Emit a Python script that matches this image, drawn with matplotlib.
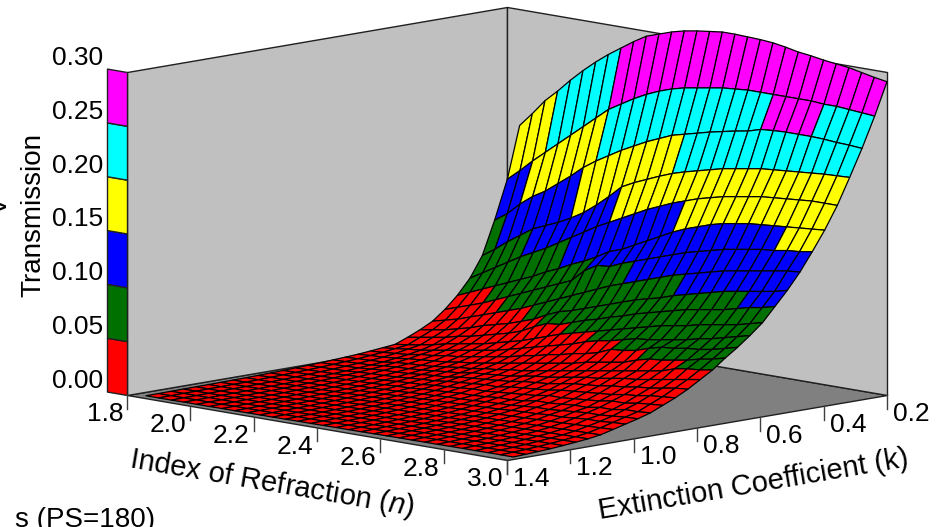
import numpy as np
import matplotlib
matplotlib.use('Agg')
from matplotlib import pyplot as plt
from matplotlib.colors import to_rgba
from mpl_toolkits.mplot3d import proj3d
from mpl_toolkits.mplot3d.art3d import Poly3DCollection

plt.rcParams['font.family'] = ['Liberation Sans']
plt.rcParams['mathtext.fontset'] = 'custom'
plt.rcParams['mathtext.it'] = 'Liberation Sans:italic'
plt.rcParams['mathtext.rm'] = 'Liberation Sans'

# grid of the surface
n_values = [1.84, 1.88, 1.92, 1.96, 2.00, 2.04, 2.08, 2.12, 2.16, 2.20,
            2.24, 2.28, 2.32, 2.36, 2.40, 2.44, 2.48, 2.52, 2.56, 2.60,
            2.64, 2.68, 2.72, 2.76, 2.80, 2.84, 2.88, 2.92, 2.96, 3.00]
k_values = [0.200, 0.239, 0.279, 0.318, 0.357, 0.397, 0.436, 0.475, 0.515, 0.554,
            0.593, 0.633, 0.672, 0.711, 0.751, 0.790, 0.829, 0.869, 0.908, 0.947,
            0.987, 1.026, 1.065, 1.105, 1.144, 1.183, 1.223, 1.262, 1.301, 1.341, 1.380]

# transmission, one row per k, one column per n
transmission = [
    [.192, .205, .219, .230, .242, .253, .263, .272, .280, .288, .295, .299, .303, .306, .308, .3095, .311, .311, .3105, .310, .309, .307, .3045, .303, .301, .2995, .298, .2955, .293, .291],
    [.144, .154, .165, .175, .185, .195, .205, .215, .225, .232, .239, .245, .250, .254, .257, .259, .261, .263, .264, .265, .265, .265, .265, .265, .265, .264, .264, .263, .262, .261],
    [.108, .116, .127, .136, .143, .152, .161, .171, .179, .186, .193, .199, .205, .210, .215, .218, .221, .224, .2265, .229, .231, .2345, .2355, .236, .236, .236, .2355, .2345, .234, .233],
    [.077, .085, .094, .102, .110, .115, .120, .126, .133, .142, .152, .163, .169, .174, .179, .1835, .187, .190, .193, .196, .198, .200, .202, .203, .204, .205, .206, .207, .2075, .208],
    [.058, .065, .072, .079, .086, .092, .098, .105, .112, .119, .126, .132, .138, .144, .150, .155, .160, .164, .168, .171, .174, .176, .178, .180, .181, .182, .183, .184, .184, .184],
    [.044, .049, .054, .059, .064, .069, .074, .080, .085, .091, .096, .102, .109, .113, .119, .125, .131, .137, .142, .146, .150, .153, .155, .157, .158, .159, .160, .161, .162, .163],
    [.033, .037, .041, .045, .050, .055, .060, .065, .070, .075, .080, .091, .098, .099, .104, .108, .112, .116, .120, .124, .127, .130, .133, .135, .137, .139, .140, .142, .143, .145],
    [.024, .027, .030, .034, .038, .042, .046, .050, .055, .060, .065, .070, .075, .080, .085, .089, .093, .097, .101, .105, .108, .111, .114, .117, .119, .121, .123, .125, .127, .128],
    [.018, .020, .022, .025, .028, .032, .035, .038, .042, .046, .052, .057, .060, .064, .068, .072, .076, .080, .083, .086, .090, .093, .096, .099, .102, .104, .106, .108, .110, .113],
    [.013, .015, .017, .019, .022, .024, .027, .030, .033, .037, .043, .048, .049, .053, .057, .060, .064, .067, .071, .074, .077, .080, .083, .085, .087, .089, .092, .095, .097, .100],
    [.0085, .010, .012, .014, .017, .019, .021, .023, .026, .029, .032, .036, .040, .044, .047, .050, .053, .056, .059, .062, .065, .068, .070, .072, .075, .077, .079, .081, .084, .087],
    [.0073, .0085, .010, .011, .013, .015, .017, .019, .021, .023, .026, .029, .032, .035, .038, .041, .045, .048, .050, .053, .056, .057, .059, .061, .063, .066, .068, .071, .074, .077],
    [.0062, .007, .008, .009, .011, .012, .014, .015, .017, .019, .021, .023, .026, .028, .031, .033, .036, .038, .041, .046, .047, .049, .053, .056, .057, .059, .060, .062, .065, .068],
    [.0052, .006, .0065, .0075, .009, .010, .011, .012, .014, .015, .017, .019, .021, .023, .025, .027, .029, .031, .034, .036, .038, .040, .044, .047, .048, .050, .052, .055, .057, .060],
    [.0045, .005, .0055, .006, .0075, .0085, .009, .010, .0115, .013, .014, .016, .017, .019, .020, .022, .024, .026, .028, .030, .032, .034, .036, .038, .040, .042, .046, .048, .049, .051],
    [.0039, .0043, .0047, .0052, .0064, .0073, .0078, .0086, .0099, .011, .012, .014, .015, .016, .017, .019, .021, .022, .024, .026, .028, .029, .031, .033, .034, .036, .038, .040, .042, .044],
    [.0033, .0037, .004, .0044, .0054, .0062, .0066, .0073, .0084, .0094, .010, .012, .013, .014, .015, .016, .018, .019, .020, .022, .024, .025, .026, .028, .029, .031, .032, .034, .036, .037],
    [.0028, .0031, .0034, .0037, .0045, .0052, .0055, .0061, .0071, .0079, .0086, .010, .011, .012, .013, .013, .015, .016, .017, .018, .020, .021, .022, .023, .024, .026, .027, .029, .030, .031],
    [.0024, .0026, .0029, .0031, .0038, .0043, .0046, .0051, .0059, .0066, .0071, .0083, .0091, .010, .011, .011, .012, .013, .014, .015, .017, .017, .018, .019, .020, .022, .022, .024, .025, .026],
    [.002, .0022, .0024, .0026, .0031, .0035, .0038, .0042, .0048, .0054, .0058, .0068, .0075, .0082, .009, .009, .0098, .011, .011, .012, .014, .014, .015, .016, .016, .018, .018, .020, .020, .021],
    [.0017, .0019, .002, .0022, .0026, .0029, .0032, .0035, .004, .0045, .0048, .0056, .0062, .0068, .0075, .0078, .0082, .0091, .0095, .010, .011, .012, .012, .013, .014, .015, .015, .016, .017, .0175],
    [.0014, .0016, .0017, .0018, .0022, .0024, .0027, .0029, .0033, .0037, .004, .0046, .0051, .0056, .0062, .0065, .0068, .0075, .0079, .0083, .0091, .0097, .010, .011, .011, .012, .013, .013, .014, .0145],
    [.0012, .0013, .0014, .0015, .0018, .002, .0022, .0024, .0027, .003, .0033, .0038, .0042, .0046, .0051, .0054, .0056, .0062, .0065, .0068, .0075, .0078, .0082, .0086, .009, .0095, .010, .0105, .011, .0115],
    [.001, .0011, .0012, .0013, .0015, .0016, .0018, .002, .0022, .0025, .0027, .0031, .0034, .0038, .0042, .0044, .0046, .005, .0053, .0056, .0061, .0063, .0066, .0069, .0072, .0075, .0078, .0081, .0083, .0085],
    [.0009, .001, .001, .0011, .0012, .0013, .0015, .0016, .0018, .002, .0022, .0025, .0028, .0031, .0034, .0036, .0038, .0041, .0043, .0046, .005, .0052, .0054, .0056, .0058, .006, .0062, .0064, .0066, .0068],
    [.0008, .0008, .0009, .0009, .001, .0011, .0012, .0013, .0015, .0016, .0018, .002, .0023, .0025, .0028, .0029, .0031, .0033, .0035, .0038, .0041, .0042, .0044, .0046, .0047, .0049, .0051, .0053, .0055, .0056],
    [.0007, .0007, .0008, .0008, .0008, .0009, .001, .0011, .0012, .0013, .0015, .0016, .0019, .002, .0023, .0024, .0025, .0027, .0029, .0031, .0033, .0034, .0036, .0037, .0038, .004, .0041, .0043, .0044, .0045],
    [.0006, .0006, .0006, .0007, .0007, .0008, .0008, .0009, .001, .0011, .0012, .0013, .0015, .0016, .0018, .0019, .002, .0022, .0023, .0025, .0027, .0028, .0029, .003, .0031, .0032, .0033, .0034, .0035, .0036],
    [.0005, .0005, .0005, .0006, .0006, .0006, .0007, .0007, .0008, .0009, .001, .0011, .0012, .0013, .0014, .0015, .0016, .0018, .0019, .002, .0022, .0023, .0024, .0024, .0025, .0026, .0027, .0027, .0028, .0029],
    [.0004, .0004, .0004, .0005, .0005, .0005, .0006, .0006, .0007, .0007, .0008, .0009, .001, .001, .0011, .0012, .0013, .0014, .0015, .0016, .0018, .0018, .0019, .0019, .002, .0021, .0021, .0022, .0022, .0023],
    [.0003, .0003, .0003, .0004, .0004, .0004, .0005, .0005, .0006, .0006, .0006, .0007, .0008, .0008, .0009, .001, .001, .0011, .0012, .0013, .0014, .0014, .0015, .0015, .0016, .0017, .0017, .0018, .0018, .0018],
]

levels = [0.00, 0.05, 0.10, 0.15, 0.20, 0.25, 0.30]
level_colors = ['#ff0000', '#007000', '#0000ff', '#ffff00', '#00ffff', '#ff00ff']
level_labels = ['0.00', '0.05', '0.10', '0.15', '0.20', '0.25', '0.30']
n_ticks = [1.8, 2.0, 2.2, 2.4, 2.6, 2.8, 3.0]
k_ticks = [1.4, 1.2, 1.0, 0.8, 0.6, 0.4, 0.2]

W, H = 947, 527
fig = plt.figure(figsize=(W / 100, H / 100), dpi=100)
ax = fig.add_subplot(projection='3d', computed_zorder=False)
ax.set_proj_type('ortho')
ax.view_init(elev=9.85, azim=-45)
ax.set_xlim(1.8, 3.0)
ax.set_ylim(1.4, 0.2)
ax.set_zlim(0, 0.3)
ax.set_box_aspect((1, 1, 0.61), zoom=0.7)
ax.set_axis_off()


def to_px(x, y, z):
    xs, ys, _ = proj3d.proj_transform(x, y, z, ax.get_proj())
    return ax.transData.transform((xs, ys))


def place(side, cx, cy):
    ax.set_position([(cx - side / 2) / W, (cy - side / 2) / H, side / W, side / H])
    ax.apply_aspect()


# fit the box on the corners of the floor: (127,395) and (887,395) in the image
side, cx, cy = 1200.0, 507.0, 150.0
place(side, cx, cy)
side *= 760 / (to_px(3.0, 0.2, 0)[0] - to_px(1.8, 1.4, 0)[0])
place(side, cx, cy)
left = to_px(1.8, 1.4, 0)
cx += 127 - left[0]
cy += (H - 395) - left[1]
place(side, cx, cy)

# walls and floor
wall = '#c0c0c0'
panes = [
    ([(1.8, 1.4, 0), (3.0, 1.4, 0), (3.0, 0.2, 0), (1.8, 0.2, 0)], '#808080'),
    ([(1.8, 1.4, 0), (1.8, 0.2, 0), (1.8, 0.2, 0.3), (1.8, 1.4, 0.3)], wall),
    ([(1.8, 0.2, 0), (3.0, 0.2, 0), (3.0, 0.2, 0.3), (1.8, 0.2, 0.3)], wall),
]
for verts, color in panes:
    ax.add_collection3d(Poly3DCollection([verts], facecolors=color, edgecolors='#202020',
                                         linewidths=1.0, zorder=1))

# colour key on the left of the wall
strip = 1.8 - 20 / 380 * 1.2
for lo, hi, color in zip(levels[:-1], levels[1:], level_colors):
    verts = [(strip, 1.4, lo), (1.8, 1.4, lo), (1.8, 1.4, hi), (strip, 1.4, hi)]
    ax.add_collection3d(Poly3DCollection([verts], facecolors=color, edgecolors='#202020',
                                         linewidths=1.0, zorder=1))

# surface, each cell coloured by the mean of its corners
N, K = np.meshgrid(n_values, k_values)
T = np.array(transmission)
cell_mean = (T[:-1, :-1] + T[1:, :-1] + T[:-1, 1:] + T[1:, 1:]) / 4
idx = np.clip(np.digitize(cell_mean, levels) - 1, 0, len(level_colors) - 1)
rgba = np.array([to_rgba(c) for c in level_colors])
ax.plot_surface(N, K, T, facecolors=rgba[idx], rstride=1, cstride=1, shade=False,
                edgecolor='black', linewidth=0.9, zorder=2)

# ticks and tick labels
tick_len = 0.0130
label_drop = 0.0186
for n in n_ticks:
    ax.plot([n, n], [1.4, 1.4], [0, -tick_len], color='#404040', lw=1.0, zorder=3)
    ax.text(n - 0.0126, 1.4, -label_drop, f'{n:.1f}', fontsize=19, ha='right', va='center')
for k in k_ticks:
    ax.plot([3.0, 3.0], [k, k], [0, -tick_len], color='#404040', lw=1.0, zorder=3)
    ax.text(3.0, k - 0.019, -label_drop, f'{k:.1f}', fontsize=19, ha='left', va='center')
for level, label in zip(levels, level_labels):
    ax.text(strip - 0.0126, 1.4, level + 0.0093, label, fontsize=19, ha='right', va='center')

# axis titles
fig.text(40 / W, 1 - 215 / H, 'Transmission', fontsize=20, rotation=90, ha='center',
         va='baseline', rotation_mode='anchor')
fig.text(272 / W, 1 - 484 / H, 'Index of Refraction ($\\mathit{n}$)', fontsize=21, rotation=-9.7,
         ha='center', va='center', rotation_mode='anchor')
fig.text(753 / W, 1 - 485 / H, 'Extinction Coefficient (k)', fontsize=21, rotation=9.7,
         ha='center', va='center', rotation_mode='anchor')
# pieces of longer titles that run off the canvas
fig.text(7 / W, 1 - 206 / H, 'V', fontsize=20, rotation=90, ha='center', va='baseline',
         rotation_mode='anchor')
fig.text(155 / W, 0, 's (PS=180)', fontsize=20, ha='right', va='baseline')

fig.savefig('out.png', dpi=100)
